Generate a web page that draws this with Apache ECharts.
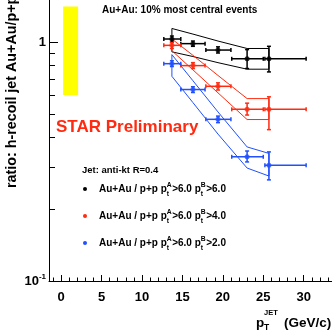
<!DOCTYPE html>
<html>
<head>
<meta charset="utf-8">
<script src="https://cdn.jsdelivr.net/npm/echarts@6/dist/echarts.min.js"></script>
<style>
  html, body { margin: 0; padding: 0; background: #fff; }
  #chart { width: 332px; height: 330px; }
</style>
</head>
<body>
<div id="chart"></div>
<script>
// jet pT (GeV/c): point positions and bin edges (horizontal bars)
const ptJet = [13.7, 16.3, 19.4, 23.0, 25.7]
const ptLow = [12.7, 14.8, 17.9, 21.1, 25.2]
const ptHigh = [14.8, 17.8, 21.0, 25.0, 30.3]

// pB > 6.0
const ratio66 = [1.03, 0.985, 0.926, 0.851, 0.851]
const statLo66 = [1.0, 0.96, 0.9, 0.775, 0.75]
const statHi66 = [1.06, 1.01, 0.955, 0.93, 0.96]
const sysLo66 = [0.91, 0.87, 0.82, 0.77, 0.77]
const sysHi66 = [1.14, 1.08, 1.01, 0.94, 0.94]

// pB > 4.0
const ratio64 = [0.969, 0.797, 0.653, 0.523, 0.523]
const statLo64 = [0.94, 0.775, 0.63, 0.495, 0.43]
const statHi64 = [0.995, 0.82, 0.675, 0.555, 0.59]
const sysLo64 = [0.92, 0.765, 0.613, 0.474, 0.474]
const sysHi64 = [1.03, 0.88, 0.725, 0.58, 0.58]

// pB > 2.0
const ratio62 = [0.812, 0.633, 0.475, 0.331, 0.305]
const statLo62 = [0.79, 0.615, 0.46, 0.315, 0.265]
const statHi62 = [0.835, 0.65, 0.49, 0.35, 0.347]
const sysLo62 = [0.719, 0.558, 0.412, 0.297, 0.275]
const sysHi62 = [0.886, 0.689, 0.51, 0.364, 0.342]

// global normalisation box (yellow)
const normBox = [[0.25, 0.6], [2.1, 1.41]]

// axis ticks
const xMajor = [0, 5, 10, 15, 20, 25, 30]
const xMinor = [-1, 1, 2, 3, 4, 6, 7, 8, 9, 11, 12, 13, 14, 16, 17, 18, 19, 21, 22, 23, 24, 26, 27, 28, 29, 31, 32, 33]
const yMajor = [0.1, 1]
const yMinor = [0.2, 0.3, 0.4, 0.5, 0.6, 0.7, 0.8, 0.9]

const ptA = '6.0'
const ptBCuts = ['6.0', '4.0', '2.0']

const RED = '#ff2a10'
const BLUE = '#2050ff'
const FONT = '"Liberation Sans", Arial, Helvetica, sans-serif'

const groups = [
  { color: '#000000', y: ratio66, lo: statLo66, hi: statHi66, sLo: sysLo66, sHi: sysHi66 },
  { color: RED, y: ratio64, lo: statLo64, hi: statHi64, sLo: sysLo64, sHi: sysHi64 },
  { color: BLUE, y: ratio62, lo: statLo62, hi: statHi62, sLo: sysLo62, sHi: sysHi62 },
]

var myChart = echarts.init(document.getElementById('chart'))

// text measuring for the sub/superscript layout
const ctx = document.createElement('canvas').getContext('2d')
function textW(s, size) {
  ctx.font = 'bold ' + size + 'px ' + FONT
  return ctx.measureText(s).width
}
function txt(x, y, s, size, fill) {
  return {
    type: 'text', x: x, y: y, silent: true,
    style: { text: s, font: 'bold ' + size + 'px ' + FONT, fill: fill || '#000', align: 'left', verticalAlign: 'middle' },
  }
}
// strings are normal text, arrays are [sup, sub] stacked at the same x
function richRow(x, y, parts, size) {
  const out = []
  let cx = x
  parts.forEach(p => {
    if (typeof p === 'string') {
      out.push(txt(cx, y, p, size))
      cx += textW(p, size)
    } else {
      const s = size * 0.68
      out.push(txt(cx, y - size * 0.35, p[0], s))
      out.push(txt(cx, y + size * 0.5, p[1], s))
      cx += Math.max(textW(p[0], s), textW(p[1], s)) + 0.5
    }
  })
  return out
}

function errorBars(params, api) {
  const x = api.value(0), y = api.value(1)
  const c = api.coord([x, y])
  const l = api.coord([api.value(2), y])
  const r = api.coord([api.value(3), y])
  const b = api.coord([x, api.value(4)])
  const t = api.coord([x, api.value(5)])
  const style = { stroke: api.visual('color'), lineWidth: 1.5 }
  const seg = (x1, y1, x2, y2) => ({ type: 'line', shape: { x1, y1, x2, y2 }, style })
  return {
    type: 'group',
    children: [
      seg(l[0], c[1], r[0], c[1]),
      seg(c[0], b[1], c[0], t[1]),
      seg(l[0], c[1] - 2, l[0], c[1] + 2),
      seg(r[0], c[1] - 2, r[0], c[1] + 2),
      seg(c[0] - 2, b[1], c[0] + 2, b[1]),
      seg(c[0] - 2, t[1], c[0] + 2, t[1]),
    ],
  }
}

const series = [
  {
    type: 'line', data: [], silent: true,
    markArea: {
      silent: true,
      itemStyle: { color: '#ffff00', opacity: 1 },
      data: [[{ coord: normBox[0] }, { coord: normBox[1] }]],
    },
  },
]
groups.forEach(g => {
  const poly = ptJet.map((x, i) => [x, g.sHi[i]])
    .concat(ptJet.map((x, i) => [x, g.sLo[i]]).reverse())
  poly.push(poly[0])
  series.push({
    type: 'line', data: poly, symbol: 'none', silent: true, z: 2,
    lineStyle: { color: g.color, width: 1 },
  })
  series.push({
    type: 'custom', renderItem: errorBars, silent: true, z: 3,
    itemStyle: { color: g.color },
    encode: { x: 0, y: 1 },
    data: ptJet.map((x, i) => [x, g.y[i], ptLow[i], ptHigh[i], g.lo[i], g.hi[i]]),
  })
  series.push({
    type: 'scatter', symbol: 'circle', symbolSize: 5, silent: true, z: 4,
    itemStyle: { color: g.color },
    data: ptJet.map((x, i) => [x, g.y[i]]),
  })
})

// legend + annotations
const graphic = []
graphic.push(txt(102, 10, 'Au+Au: 10% most central events', 10))
graphic.push(txt(56, 127, 'STAR Preliminary', 17, RED))
graphic.push(txt(82, 170, 'Jet: anti-kt R=0.4', 9.5))
ptBCuts.forEach((cut, i) => {
  const y = 189 + i * 27
  graphic.push({ type: 'circle', silent: true, shape: { cx: 85, cy: y, r: 2 }, style: { fill: groups[i].color } })
  richRow(99, y, ['Au+Au / p+p p', ['A', 't'], '>' + ptA + ' p', ['B', 't'], '>' + cut], 10)
    .forEach(e => graphic.push(e))
})
// y title
graphic.push({
  type: 'text', x: 12, y: 188, rotation: Math.PI / 2, silent: true,
  style: { text: 'ratio: h-recoil jet Au+Au/p+p', font: 'bold 14.3px ' + FONT, fill: '#000', align: 'left', verticalAlign: 'middle' },
})
// x title
graphic.push(txt(256, 323, 'p', 13.5))
graphic.push(txt(264, 312.5, 'JET', 7.5))
graphic.push(txt(264, 328, 'T', 8.5))
graphic.push(txt(284, 323, '(GeV/c)', 13.5))

const option = {
  animation: false,
  backgroundColor: '#fff',
  grid: { left: 49, right: 0, top: 0, bottom: 49, containLabel: false },
  xAxis: [
    {
      type: 'value', min: -1.5, max: 33.5, position: 'bottom',
      axisLine: { onZero: false, lineStyle: { color: '#000', width: 1 } },
      splitLine: { show: false },
      axisTick: { inside: true, length: 6, customValues: xMajor, lineStyle: { color: '#000' } },
      axisLabel: { customValues: xMajor, margin: 10, color: '#000', fontSize: 13, fontWeight: 'bold', fontFamily: FONT },
    },
    {
      type: 'value', min: -1.5, max: 33.5, position: 'bottom',
      axisLine: { show: false, onZero: false },
      splitLine: { show: false },
      axisTick: { inside: true, length: 3.5, customValues: xMinor, lineStyle: { color: '#000' } },
      axisLabel: { show: false },
    },
  ],
  yAxis: [
    {
      type: 'log', min: 0.1, max: 1.5, position: 'left',
      axisLine: { onZero: false, lineStyle: { color: '#000', width: 1 } },
      splitLine: { show: false },
      axisTick: { inside: true, length: 9, customValues: yMajor, lineStyle: { color: '#000' } },
      axisLabel: {
        customValues: yMajor, margin: 3, color: '#000',
        formatter: v => (v > 0.5 ? '{b|1}' : '{b|10}{s|-1}'),
        rich: {
          b: { fontSize: 13, fontWeight: 'bold', fontFamily: FONT, lineHeight: 16 },
          s: { fontSize: 8, fontWeight: 'bold', fontFamily: FONT, lineHeight: 10, verticalAlign: 'top' },
        },
      },
    },
    {
      type: 'log', min: 0.1, max: 1.5, position: 'left',
      axisLine: { show: false, onZero: false },
      splitLine: { show: false },
      axisTick: { inside: true, length: 6, customValues: yMinor, lineStyle: { color: '#000' } },
      axisLabel: { show: false },
    },
  ],
  series: series,
  graphic: graphic,
}

option && myChart.setOption(option)
window.addEventListener('resize', function () {
  myChart.resize()
})
</script>
</body>
</html>
